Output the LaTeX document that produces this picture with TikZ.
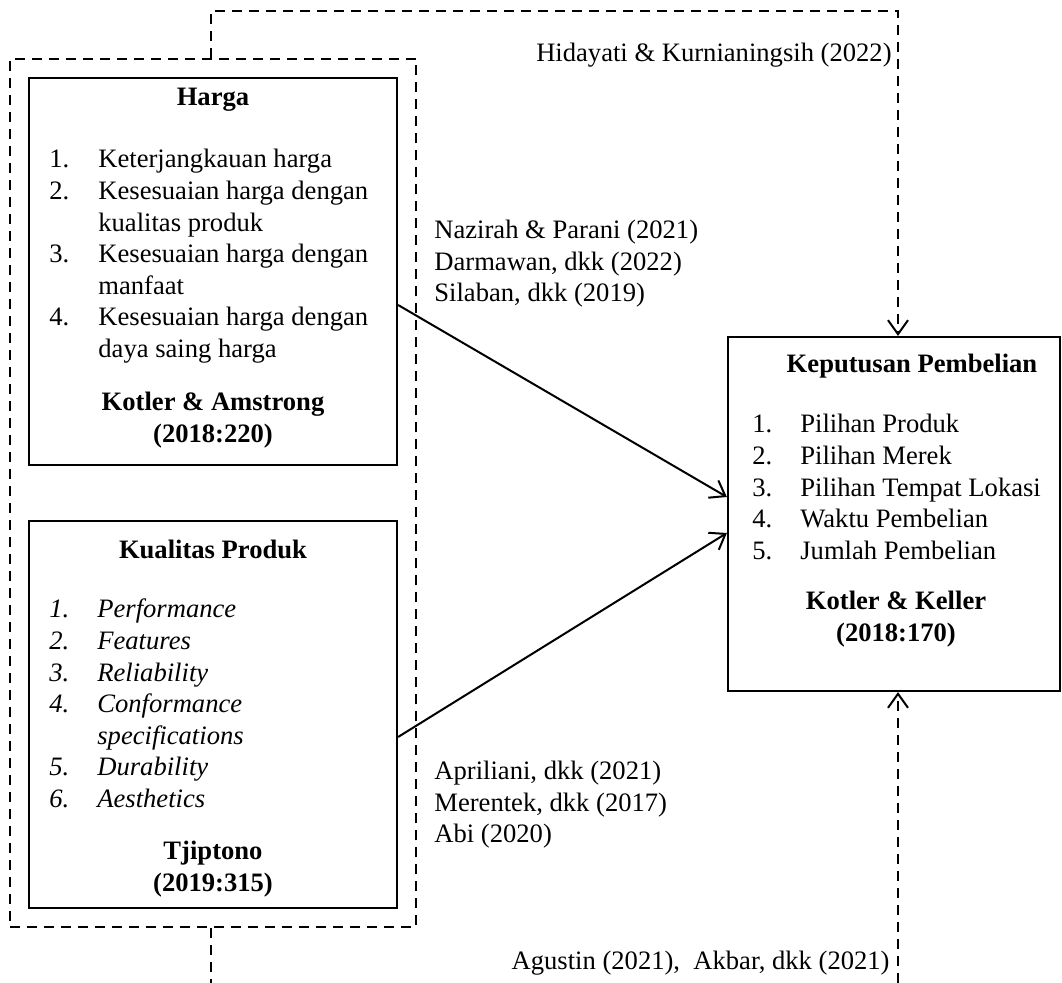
\documentclass[tikz,border=0pt]{standalone}
\usepackage{fontspec}
\setmainfont{Liberation Serif}
\usetikzlibrary{arrows.meta,positioning,calc,fit}

\begin{document}
\begin{tikzpicture}[x=0.5pt, y=-0.5pt,
    font=\fontsize{13.3}{15.8}\selectfont,
    box/.style={rectangle, draw, line width=1.1pt, inner sep=0pt},
    grpbox/.style={rectangle, draw, line width=1pt, dash pattern=on 5pt off 3.5pt, inner sep=9pt},
    dashline/.style={line width=1pt, dash pattern=on 5pt off 3.5pt},
    inf/.style={-{Straight Barb[length=7pt,width=10pt]}, line width=1pt},
    dashinf/.style={inf, dash pattern=on 5pt off 3.5pt},
    cite/.style={align=left, inner sep=0pt},
    boxtitle/.style={font=\fontsize{13.3}{15.8}\selectfont\bfseries, inner sep=0pt},
    itemlist/.style={anchor=base west, inner sep=0pt}
]
    \useasboundingbox (0,0) rectangle (1062,983);

    % variable boxes
    \node[box, minimum width=184pt, minimum height=193.5pt] (harga) at (213,271.5) {};
    \node[box, minimum width=184pt, minimum height=193.5pt] (kual) at (213,714.5) {};
    \node[box, minimum width=166pt, minimum height=177pt] (kep) at (894,514) {};
    \node[grpbox, fit=(harga)(kual)] (grp) {};

    % Harga
    \node[boxtitle] (hargat) at (213,100) {Harga};
    \node[itemlist] (hargal) at (49,168) {\begin{tabular}[t]{@{}p{24.5pt}@{}l@{}}
        1. & Keterjangkauan harga\\
        2. & Kesesuaian harga dengan\\
           & kualitas produk\\
        3. & Kesesuaian harga dengan\\
           & manfaat\\
        4. & Kesesuaian harga dengan\\
           & daya saing harga
    \end{tabular}};
    \node[boxtitle, align=center] (hargas) at (213,420) {Kotler \& Amstrong\\(2018:220)};

    % Kualitas Produk
    \node[boxtitle] (kualt) at (213,549) {Kualitas Produk};
    \node[itemlist] (kuall) at (49,618) {\itshape\begin{tabular}[t]{@{}p{24pt}@{}l@{}}
        1. & Performance\\
        2. & Features\\
        3. & Reliability\\
        4. & Conformance\\
           & specifications\\
        5. & Durability\\
        6. & Aesthetics
    \end{tabular}};
    \node[boxtitle, align=center] (kuals) at (213,869) {Tjiptono\\(2019:315)};

    % Keputusan Pembelian
    \node[boxtitle] (kept) at (912,366) {Keputusan Pembelian};
    \node[itemlist] (kepl) at (752,433) {\begin{tabular}[t]{@{}p{24pt}@{}l@{}}
        1. & Pilihan Produk\\
        2. & Pilihan Merek\\
        3. & Pilihan Tempat Lokasi\\
        4. & Waktu Pembelian\\
        5. & Jumlah Pembelian
    \end{tabular}};
    \node[boxtitle, align=center] (keps) at (896,619) {Kotler \& Keller\\(2018:170)};

    % partial effects
    \draw[inf] ($(harga.east)+(0,33.5)$) -- ($(kep.west)+(0,-17)$);
    \draw[inf] ($(kual.east)+(0,22.5)$) -- ($(kep.west)+(0,19)$);
    \node[cite, anchor=west] (citeh) at (434,264) {Nazirah \& Parani (2021)\\Darmawan, dkk (2022)\\Silaban, dkk (2019)};
    \node[cite, anchor=west] (citek) at (434,805) {Apriliani, dkk (2021)\\Merentek, dkk (2017)\\Abi (2020)};

    % simultaneous effect
    \draw[dashinf] ([xshift=-1pt]grp.north) -- ++(0,-47) -| ([xshift=2pt]kep.north);
    \node[cite, anchor=east] (citetop) at (892,55) {Hidayati \& Kurnianingsih (2022)};
    \coordinate (botl) at (211,983);
    \coordinate (botr) at (898,983);
    \draw[dashline] ([xshift=-1pt]grp.south) -- (botl);
    \draw[dashinf] (botr) -- ([xshift=2pt]kep.south);
    \node[cite, anchor=east] (citebot) at (890,963) {Agustin (2021),\ \ Akbar, dkk (2021)};
\end{tikzpicture}
\end{document}
